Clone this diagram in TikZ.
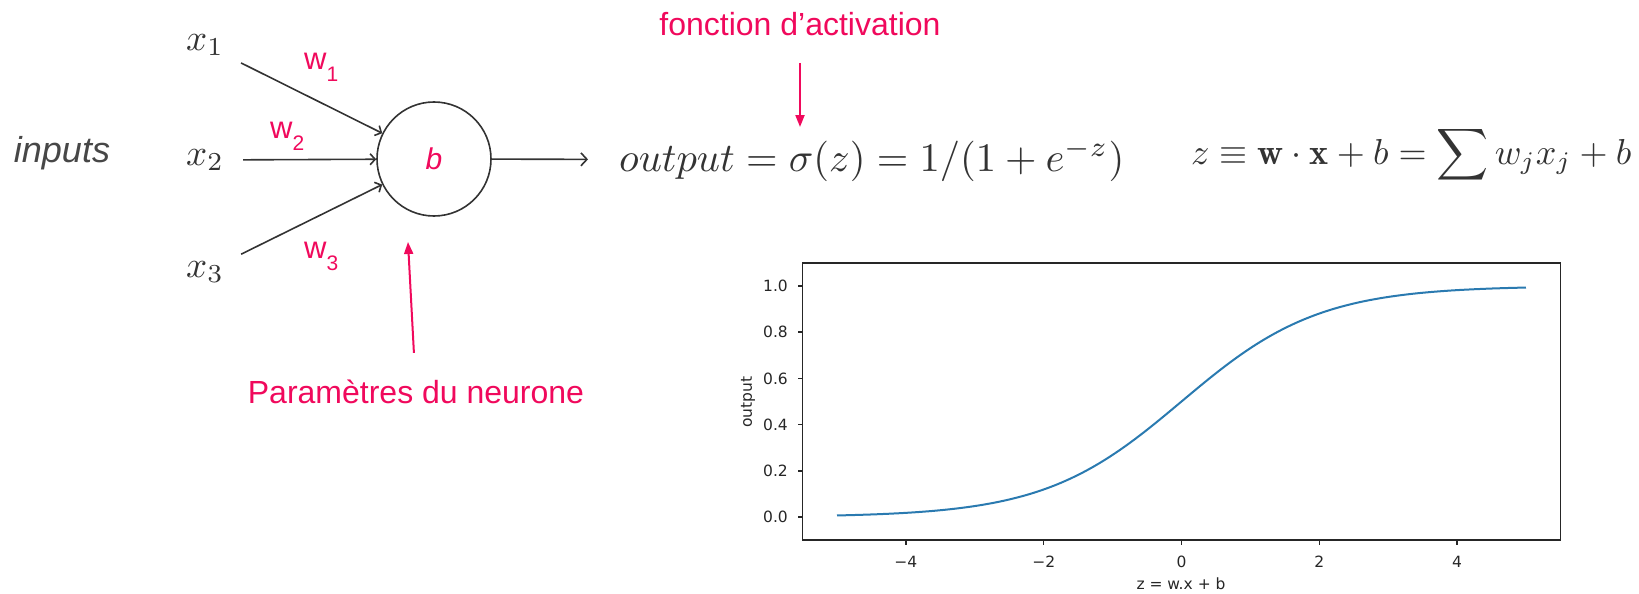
\documentclass[tikz,border=0pt]{standalone}
\usepackage{fontspec}
\usepackage{graphicx}
\usetikzlibrary{arrows.meta}
\newfontfamily\robo{Liberation Sans}
\newfontfamily\dvs{DejaVu Sans}
\definecolor{pinkred}{HTML}{F0095C}
\definecolor{ink}{HTML}{333333}
\definecolor{mplblue}{HTML}{2A7AB0}
\definecolor{mpltext}{HTML}{262626}
\begin{document}
\begin{tikzpicture}[x=1pt,y=-1pt,
  mathlbl/.style={inner sep=0pt, text=ink},
  redtxt/.style={inner sep=0pt, text=pinkred, font=\robo\fontsize{32}{38}\selectfont},
  wlbl/.style={inner sep=0pt, text=pinkred, font=\robo\fontsize{31}{36}\selectfont},
  wire/.style={draw=ink, line width=1.6pt},
  inarrow/.style={wire, -{Straight Barb[length=5pt,width=11pt]}},
  outarrow/.style={wire, -{Straight Barb[length=6pt,width=13pt]}},
  redarrow/.style={draw=pinkred, line width=2pt, -{Triangle[length=12pt,width=9pt]}},
  frame/.style={draw=mpltext, line width=1.5pt},
  ticklbl/.style={inner sep=0pt, text=mpltext, font=\dvs\fontsize{15.5}{18}\selectfont},
]
\useasboundingbox (0,0) rectangle (1639,594);

% inputs
\node[inner sep=0pt, text=ink!90, font=\robo\itshape\fontsize{36}{40}\selectfont] (inp) at (62,153) {inputs};
\node[mathlbl] (x1) at (205,45) {\scalebox{3.7}{$x_1$}};
\node[mathlbl] (x2) at (205,160) {\scalebox{3.7}{$x_2$}};
\node[mathlbl] (x3) at (205,272) {\scalebox{3.7}{$x_3$}};

% neuron
\node[draw=ink, line width=1.6pt, circle, minimum size=114pt, inner sep=0pt,
      text=pinkred, font=\robo\itshape\fontsize{30}{30}\selectfont] (n) at (434,159) {b};

\draw[inarrow, shorten <=19pt] (x1) -- (n);
\draw[inarrow, shorten <=19pt] (x2) -- (n);
\draw[inarrow, shorten <=19pt] (x3) -- (n);

% weights
\node[wlbl, anchor=base west] (w1) at (304,70) {w\raisebox{-12pt}{\fontsize{21}{21}\selectfont 1}};
\node[wlbl, anchor=base west] (w2) at (270,138) {w\raisebox{-12pt}{\fontsize{21}{21}\selectfont 2}};
\node[wlbl, anchor=base west] (w3) at (304,258) {w\raisebox{-12pt}{\fontsize{21}{21}\selectfont 3}};

% output formula
\node[mathlbl, anchor=west] (of) at (619,160) {\resizebox{505pt}{!}{$output = \sigma(z) = 1/(1+e^{-z})$}};
\draw[outarrow, shorten >=31pt] (n) -- (of);

% z formula
\node[mathlbl, anchor=west] (zf) at (1191,155) {\resizebox{440pt}{!}{$z \equiv \mathbf{w}\cdot\mathbf{x} + b = \displaystyle\sum w_j x_j + b$}};

% red annotations
\node[redtxt] (fa) at (800,24) {fonction d’activation};
\coordinate (sigtip) at (800,127);
\draw[redarrow, shorten <=27pt] (fa) -- (sigtip);

\node[redtxt] (pn) at (416,392) {Paramètres du neurone};
\coordinate (ptip) at (408,242);
\draw[redarrow, shorten <=27pt] (pn) -- (ptip);

% plot
\draw[mplblue, line width=2pt] plot[domain=-5:5, samples=120, smooth]
  ({1181.5+68.9*\x},{517-231/(1+exp(-\x))});
\draw[frame] (802.6,263) rectangle (1560.4,540.1);
\foreach \v/\lab in {0/0.0, 0.2/0.2, 0.4/0.4, 0.6/0.6, 0.8/0.8, 1/1.0} {
  \draw[frame] (802.6,{517-231*\v}) -- ++(-5,0);
  \node[ticklbl, anchor=east] at (788,{517-231*\v}) {\lab};
}
\foreach \v/\lab in {-4/−4, -2/−2, 0/0, 2/2, 4/4} {
  \draw[frame] ({1181.5+68.9*\v},540.1) -- ++(0,5);
  \node[ticklbl, anchor=north] at ({1181.5+68.9*\v},556) {\lab};
}
\node[ticklbl] (xl) at (1181,584) {z = w.x + b};
\node[ticklbl, rotate=90] (yl) at (748,402) {output};
\end{tikzpicture}
\end{document}
